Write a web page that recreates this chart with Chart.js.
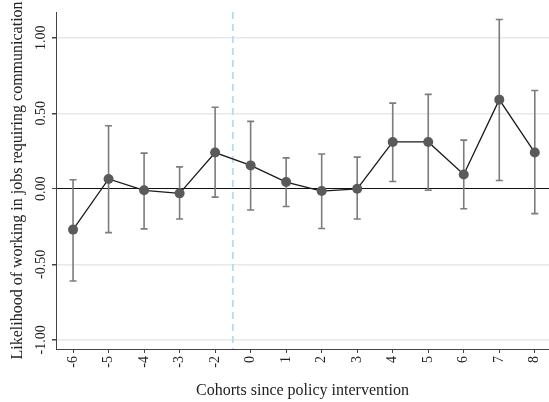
<!DOCTYPE html>
<html>
<head>
<meta charset="utf-8">
<script src="https://cdn.jsdelivr.net/npm/chart.js@4/dist/chart.umd.min.js"></script>
<style>
  html, body { margin: 0; padding: 0; background: #fff; }
  #wrap { width: 549px; height: 402px; position: relative; }
</style>
</head>
<body>
<div id="wrap"><canvas id="c"></canvas></div>
<script>
// ---- data ----
const categories = ['-6', '-5', '-4', '-3', '-2', '0', '1', '2', '3', '4', '5', '6', '7', '8'];
const estimates  = [-0.27, 0.065, -0.01, -0.03, 0.24, 0.155, 0.045, -0.015, 0.00, 0.31, 0.31, 0.095, 0.59, 0.24];
const ciLower    = [-0.61, -0.29, -0.265, -0.20, -0.055, -0.14, -0.117, -0.263, -0.20, 0.048, -0.01, -0.132, 0.055, -0.164];
const ciUpper    = [0.06, 0.417, 0.236, 0.145, 0.54, 0.446, 0.205, 0.23, 0.21, 0.567, 0.625, 0.322, 1.12, 0.651];
const yTickValues = [-1, -0.5, 0, 0.5, 1];
const xTitle = 'Cohorts since policy intervention';
const yTitle = 'Likelihood of working in jobs requiring communication';
// policy intervention falls between cohort -2 and 0 (cohort -1 is the omitted reference)
const interventionPos = categories.indexOf('0') - 0.5;

const points = categories.map((c, i) => ({ x: i, y: estimates[i] }));

const errorBars = {
  id: 'errorBars',
  beforeDatasetsDraw(chart) {
    const { ctx, scales: { x, y }, chartArea } = chart;
    ctx.save();
    // dashed intervention line
    const xv = x.getPixelForValue(interventionPos);
    ctx.strokeStyle = '#b3d9ea';
    ctx.lineWidth = 1.6;
    ctx.setLineDash([7, 5]);
    ctx.beginPath();
    ctx.moveTo(xv, chartArea.top);
    ctx.lineTo(xv, chartArea.bottom);
    ctx.stroke();
    ctx.setLineDash([]);
    // confidence intervals
    ctx.strokeStyle = '#7c7c7c';
    ctx.lineWidth = 1.6;
    categories.forEach((c, i) => {
      const px = x.getPixelForValue(i);
      const lo = y.getPixelForValue(ciLower[i]);
      const hi = y.getPixelForValue(ciUpper[i]);
      const cap = 3.5;
      ctx.beginPath();
      ctx.moveTo(px, lo); ctx.lineTo(px, hi);
      ctx.moveTo(px - cap, lo); ctx.lineTo(px + cap, lo);
      ctx.moveTo(px - cap, hi); ctx.lineTo(px + cap, hi);
      ctx.stroke();
    });
    ctx.restore();
  }
};

new Chart(document.getElementById('c'), {
  type: 'line',
  data: {
    datasets: [{
      data: points,
      borderColor: '#1a1a1a',
      borderWidth: 1.3,
      pointRadius: 5,
      pointBackgroundColor: '#5a5a5a',
      pointBorderColor: '#5a5a5a',
      pointBorderWidth: 0,
      tension: 0,
      clip: false
    }]
  },
  options: {
    responsive: true,
    maintainAspectRatio: false,
    animation: false,
    layout: { autoPadding: false, padding: { top: 12, left: 0, right: 0, bottom: 0 } },
    plugins: { legend: { display: false }, tooltip: { enabled: false } },
    scales: {
      x: {
        type: 'linear',
        min: -0.48,
        max: 13.4,
        afterBuildTicks: s => { s.ticks = categories.map((c, i) => ({ value: i })); },
        afterFit: s => { s.height = 53; s.paddingLeft = 0; s.paddingRight = 0; },
        ticks: {
          callback: v => categories[v],
          minRotation: 90, maxRotation: 90,
          autoSkip: false,
          padding: 3,
          color: '#222',
          font: { family: 'Liberation Serif', size: 14 }
        },
        grid: { drawOnChartArea: false, drawTicks: true, tickLength: 4, tickColor: '#444' },
        border: { display: true, color: '#444', width: 1 },
        title: {
          display: true, text: xTitle, color: '#222',
          font: { family: 'Liberation Serif', size: 16 },
          padding: { top: 0, bottom: 2 }
        }
      },
      y: {
        min: -1.06,
        max: 1.17,
        afterBuildTicks: s => { s.ticks = yTickValues.map(v => ({ value: v })); },
        afterFit: s => { s.width = 56; s.paddingTop = 0; s.paddingBottom = 0; },
        ticks: {
          callback: v => v.toFixed(2),
          minRotation: 90, maxRotation: 90,
          crossAlign: 'center',
          autoSkip: false,
          padding: -3.6,
          color: '#222',
          font: { family: 'Liberation Serif', size: 14 }
        },
        grid: {
          color: c => (c.tick && c.tick.value === 0) ? '#111' : '#e8e8e8',
          lineWidth: c => (c.tick && c.tick.value === 0) ? 1 : 1.5,
          drawTicks: true, tickLength: 4, tickColor: '#444'
        },
        border: { display: true, color: '#444', width: 1 },
        title: {
          display: true, text: yTitle, color: '#222',
          font: { family: 'Liberation Serif', size: 16 },
          padding: { top: 8, bottom: 0 }
        }
      }
    }
  },
  plugins: [errorBars]
});
</script>
</body>
</html>
